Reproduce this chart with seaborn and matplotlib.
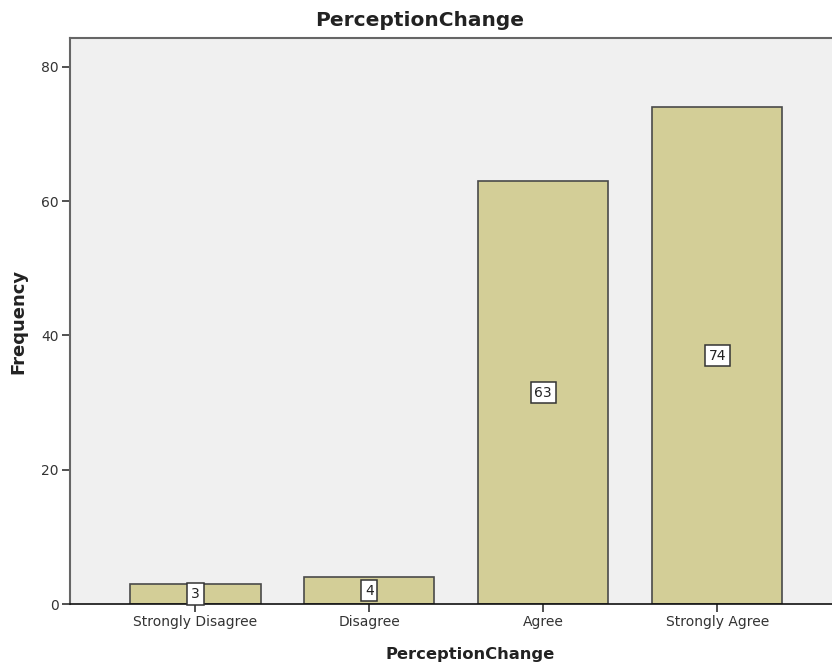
import matplotlib
matplotlib.use("Agg")
import matplotlib.pyplot as plt
import seaborn as sns
import pandas as pd

# ===== DATA =====
categories = ["Strongly Disagree", "Disagree", "Agree", "Strongly Agree"]
counts = [3, 4, 63, 74]
y_ticks = [0, 20, 40, 60, 80]

BAR_COLOR = "#D3CE97"
BG_COLOR = "#F0F0F0"
W, H = 832, 667

df = pd.DataFrame({"PerceptionChange": categories, "Frequency": counts})

sns.set_style("white")
plt.rcParams["font.family"] = ["DejaVu Sans"]

fig = plt.figure(figsize=(W / 100, H / 100), dpi=100)
ax = fig.add_axes([70 / W, 63 / H, 1 - 70 / W, (604 - 38) / H])
ax.set_facecolor(BG_COLOR)

sns.barplot(data=df, x="PerceptionChange", y="Frequency", order=categories,
            color=BAR_COLOR, saturation=1, width=0.75,
            edgecolor="#4a4a4a", linewidth=1.2, ax=ax)

# value labels in the middle of each bar
for i, v in enumerate(counts):
    ax.text(i, v / 2, str(v), ha="center", va="center", fontsize=10, color="#222222",
            bbox=dict(boxstyle="square,pad=0.28", facecolor="white",
                      edgecolor="#333333", linewidth=1.1))

ax.set_xlim(-0.72, 3.66)
ax.set_ylim(0, 84.3)
ax.set_yticks(y_ticks)
ax.tick_params(axis="both", direction="out", length=6, width=1.2,
               bottom=True, left=True, color="#333333",
               labelsize=10, labelcolor="#333333", pad=2)

for side in ["left", "top"]:
    ax.spines[side].set_color("#666666")
    ax.spines[side].set_linewidth(1.5)
ax.spines["bottom"].set_color("#111111")
ax.spines["bottom"].set_linewidth(1.2)
ax.spines["right"].set_visible(False)

ax.set_xlabel("")
ax.set_ylabel("")
fig.text(420 / W, 1 - 21 / H, "PerceptionChange", ha="center", va="center",
         fontsize=14.5, fontweight="bold", color="#222222")
fig.text(470 / W, 1 - 654 / H, "PerceptionChange", ha="center", va="center",
         fontsize=11.8, fontweight="bold", color="#222222")
fig.text(18 / W, 1 - 321 / H, "Frequency", ha="center", va="center", rotation=90,
         fontsize=13, fontweight="bold", color="#222222")

fig.savefig("out.png", dpi=100)
plt.close(fig)
